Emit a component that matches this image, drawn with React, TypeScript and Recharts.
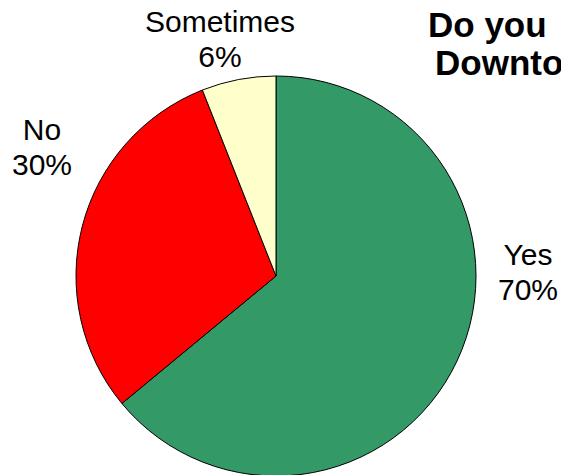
import React from "react";
import { PieChart, Pie, Cell } from "recharts";

/* ---------------- DATA ---------------- */
const categories = ["Yes", "No", "Sometimes"];
// slice sizes as drawn (angles)
const sliceValues = [64, 30, 6];
// percentages as printed on the labels
const labelTexts = ["70%", "30%", "6%"];
const titleLines = ["Do you", "Downtown"];

/* ---------------- STYLE ---------------- */
const colors = ["#339966", "#FF0000", "#FFFFCC"];
const FONT = "'Liberation Sans', Arial, sans-serif";

// label block offsets from the pie centre (first-line baseline)
const labelOffsets = [
  { dx: 252, dy: -11 },
  { dx: -234, dy: -136 },
  { dx: -56, dy: -244 },
];

const data = categories.map((name, i) => ({
  name,
  value: sliceValues[i],
  label: labelTexts[i],
}));

const renderLabel = (props: any) => {
  const { cx, cy, index } = props;
  const off = labelOffsets[index];
  const x = cx + off.dx;
  const y = cy + off.dy;
  return (
    <text
      key={`lbl-${index}`}
      x={x}
      y={y}
      textAnchor="middle"
      fill="#000"
      fontSize={30}
      fontFamily={FONT}
    >
      <tspan x={x} dy={0}>
        {data[index].name}
      </tspan>
      <tspan x={x} dy={35}>
        {data[index].label}
      </tspan>
    </text>
  );
};

const App: React.FC = () => {
  return (
    <div
      style={{
        position: "fixed",
        left: 0,
        top: 0,
        width: 561,
        height: 475,
        overflow: "hidden",
        background: "#fff",
      }}
    >
      <PieChart width={561} height={475} margin={{ top: 0, right: 0, bottom: 0, left: 0 }}>
        <Pie
          data={data}
          dataKey="value"
          nameKey="name"
          cx={276}
          cy={276}
          outerRadius={200}
          startAngle={90}
          endAngle={-270}
          stroke="#000"
          strokeWidth={1}
          label={renderLabel}
          labelLine={false}
          isAnimationActive={false}
        >
          {data.map((d, i) => (
            <Cell key={d.name} fill={colors[i]} />
          ))}
        </Pie>
        <text
          x={428}
          y={37}
          fontSize={35}
          fontWeight="bold"
          fontFamily={FONT}
          fill="#000"
        >
          <tspan x={428} dy={0}>
            {titleLines[0]}
          </tspan>
          <tspan x={435} dy={38}>
            {titleLines[1]}
          </tspan>
        </text>
      </PieChart>
    </div>
  );
};

export default App;
